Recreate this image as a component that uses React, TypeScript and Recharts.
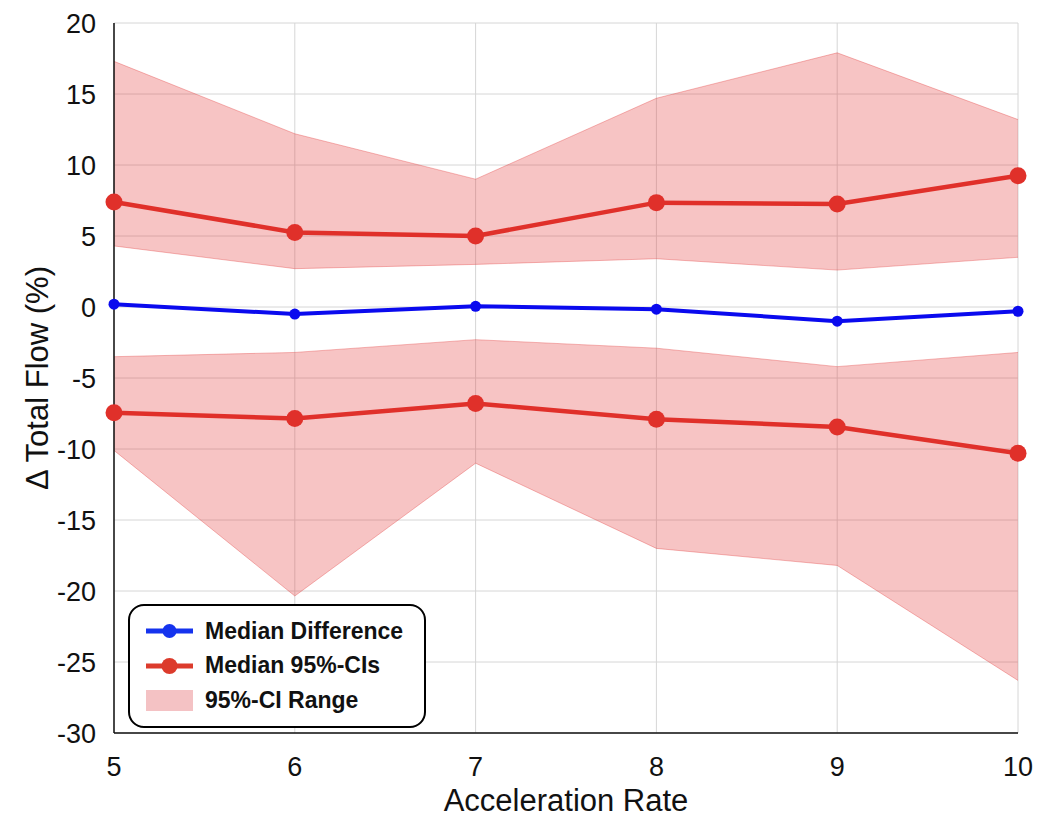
import {
  Area,
  CartesianGrid,
  ComposedChart,
  Line,
  XAxis,
  YAxis,
} from "recharts";

const accelRates = [5, 6, 7, 8, 9, 10];
const medianDiff = [0.2, -0.5, 0.05, -0.15, -1.0, -0.3];
const upperMedian = [7.4, 5.25, 5.0, 7.35, 7.25, 9.25];
const upperHigh = [17.3, 12.2, 9.0, 14.7, 17.9, 13.2];
const upperLow = [4.3, 2.7, 3.0, 3.4, 2.6, 3.5];
const lowerHigh = [-3.5, -3.2, -2.3, -2.9, -4.2, -3.2];
const lowerMedian = [-7.45, -7.85, -6.8, -7.9, -8.45, -10.3];
const lowerLow = [-10.1, -20.35, -11.0, -17.0, -18.2, -26.3];

const xTicks = [5, 6, 7, 8, 9, 10];
const yTicks = [20, 15, 10, 5, 0, -5, -10, -15, -20, -25, -30];

const BLUE = "#0a0aee";
const RED = "#e0302a";
const BAND = "#e33a3a";
const FONT = "'Liberation Sans', Arial, Helvetica, sans-serif";

const data = accelRates.map((x, i) => ({
  x,
  diff: medianDiff[i],
  upMed: upperMedian[i],
  loMed: lowerMedian[i],
  upBand: [upperLow[i], upperHigh[i]],
  loBand: [lowerLow[i], lowerHigh[i]],
}));

const legendItems = [
  { label: "Median Difference", kind: "line", color: "#1533ee", r: 7 },
  { label: "Median 95%-CIs", kind: "line", color: "#dc3b2c", r: 8 },
  { label: "95%-CI Range", kind: "patch", color: "#f4c2c4", r: 0 },
];

const noTick = () => <g />;
const tickLineStyle = { stroke: "#111", strokeWidth: 1.3 };
const axisLineStyle = { stroke: "#111", strokeWidth: 1.5 };

function YLabel(props: any) {
  const vb = props.viewBox || { x: 0, y: 0, width: 0, height: 0 };
  const cx = vb.x + 37;
  const cy = vb.y + vb.height / 2;
  return (
    <text
      x={cx}
      y={cy}
      transform={`rotate(-90, ${cx}, ${cy})`}
      textAnchor="middle"
      dominantBaseline="central"
      fontSize={31}
      fontFamily={FONT}
      fill="#111"
    >
      Δ Total Flow (%)
    </text>
  );
}

function XLabel(props: any) {
  const vb = props.viewBox || { x: 0, y: 0, width: 0, height: 0 };
  return (
    <text
      x={vb.x + vb.width / 2}
      y={vb.y + 67}
      textAnchor="middle"
      dominantBaseline="central"
      fontSize={31}
      fontFamily={FONT}
      fill="#111"
    >
      Acceleration Rate
    </text>
  );
}

function ChartLegend() {
  return (
    <div
      style={{
        position: "absolute",
        left: 128,
        top: 604,
        width: 294,
        height: 112,
        border: "2.5px solid #000",
        borderRadius: 16,
        background: "#fff",
        fontFamily: FONT,
        boxSizing: "content-box",
        paddingTop: 8,
      }}
    >
      {legendItems.map((item) => (
        <div
          key={item.label}
          style={{ display: "flex", alignItems: "center", height: 34.5, paddingLeft: 15 }}
        >
          <svg width={50} height={24} style={{ marginRight: 10 }}>
            {item.kind === "line" ? (
              <>
                <line x1={1} y1={12} x2={48} y2={12} stroke={item.color} strokeWidth={5} />
                <circle cx={24.5} cy={12} r={item.r} fill={item.color} />
              </>
            ) : (
              <rect x={1} y={2} width={47} height={21} fill={item.color} />
            )}
          </svg>
          <span style={{ fontSize: 23, fontWeight: 700, color: "#111" }}>{item.label}</span>
        </div>
      ))}
    </div>
  );
}

export default function App() {
  const tickStyle = { fill: "#111", fontSize: 27, fontFamily: FONT };
  return (
    <div style={{ position: "absolute", left: 0, top: 0, width: 1050, height: 825, background: "#fff" }}>
      <ComposedChart
        width={1050}
        height={825}
        data={data}
        margin={{ top: 23, right: 32, bottom: 0, left: 0 }}
      >
        <CartesianGrid stroke="#d6d6d6" strokeWidth={1} />
        {/* inward tick marks on all four sides, drawn by mirrored axes */}
        <XAxis
          xAxisId="bottomTicks"
          dataKey="x"
          type="number"
          domain={[5, 10]}
          ticks={xTicks}
          height={0}
          mirror
          tick={noTick}
          tickSize={9}
          tickLine={tickLineStyle}
          axisLine={axisLineStyle}
        />
        <XAxis
          dataKey="x"
          type="number"
          domain={[5, 10]}
          ticks={xTicks}
          height={92}
          tick={tickStyle}
          tickLine={false}
          tickMargin={18}
          axisLine={axisLineStyle}
          label={<XLabel />}
        />
        <XAxis
          xAxisId="top"
          orientation="top"
          dataKey="x"
          type="number"
          domain={[5, 10]}
          ticks={xTicks}
          height={0}
          mirror
          tick={noTick}
          tickSize={9}
          tickLine={tickLineStyle}
          axisLine={axisLineStyle}
        />
        <YAxis
          yAxisId="leftTicks"
          type="number"
          domain={[-30, 20]}
          ticks={yTicks}
          width={0}
          mirror
          tick={noTick}
          tickSize={9}
          tickLine={tickLineStyle}
          axisLine={axisLineStyle}
        />
        <YAxis
          type="number"
          domain={[-30, 20]}
          ticks={yTicks}
          width={114}
          tick={tickStyle}
          tickLine={false}
          tickMargin={12}
          axisLine={axisLineStyle}
          label={<YLabel />}
        />
        <YAxis
          yAxisId="right"
          orientation="right"
          type="number"
          domain={[-30, 20]}
          ticks={yTicks}
          width={0}
          mirror
          tick={noTick}
          tickSize={9}
          tickLine={tickLineStyle}
          axisLine={axisLineStyle}
        />
        <Area
          dataKey="upBand"
          type="linear"
          fill={BAND}
          fillOpacity={0.3}
          stroke={BAND}
          strokeOpacity={0.35}
          strokeWidth={1}
          isAnimationActive={false}
        />
        <Area
          dataKey="loBand"
          type="linear"
          fill={BAND}
          fillOpacity={0.3}
          stroke={BAND}
          strokeOpacity={0.35}
          strokeWidth={1}
          isAnimationActive={false}
        />
        <Line
          dataKey="diff"
          type="linear"
          stroke={BLUE}
          strokeWidth={4}
          dot={{ r: 5.5, fill: BLUE, stroke: BLUE, strokeWidth: 0 }}
          activeDot={false}
          isAnimationActive={false}
        />
        <Line
          dataKey="upMed"
          type="linear"
          stroke={RED}
          strokeWidth={4.5}
          dot={{ r: 8.5, fill: RED, stroke: RED, strokeWidth: 0 }}
          activeDot={false}
          isAnimationActive={false}
        />
        <Line
          dataKey="loMed"
          type="linear"
          stroke={RED}
          strokeWidth={4.5}
          dot={{ r: 8.5, fill: RED, stroke: RED, strokeWidth: 0 }}
          activeDot={false}
          isAnimationActive={false}
        />
      </ComposedChart>
      <ChartLegend />
    </div>
  );
}
